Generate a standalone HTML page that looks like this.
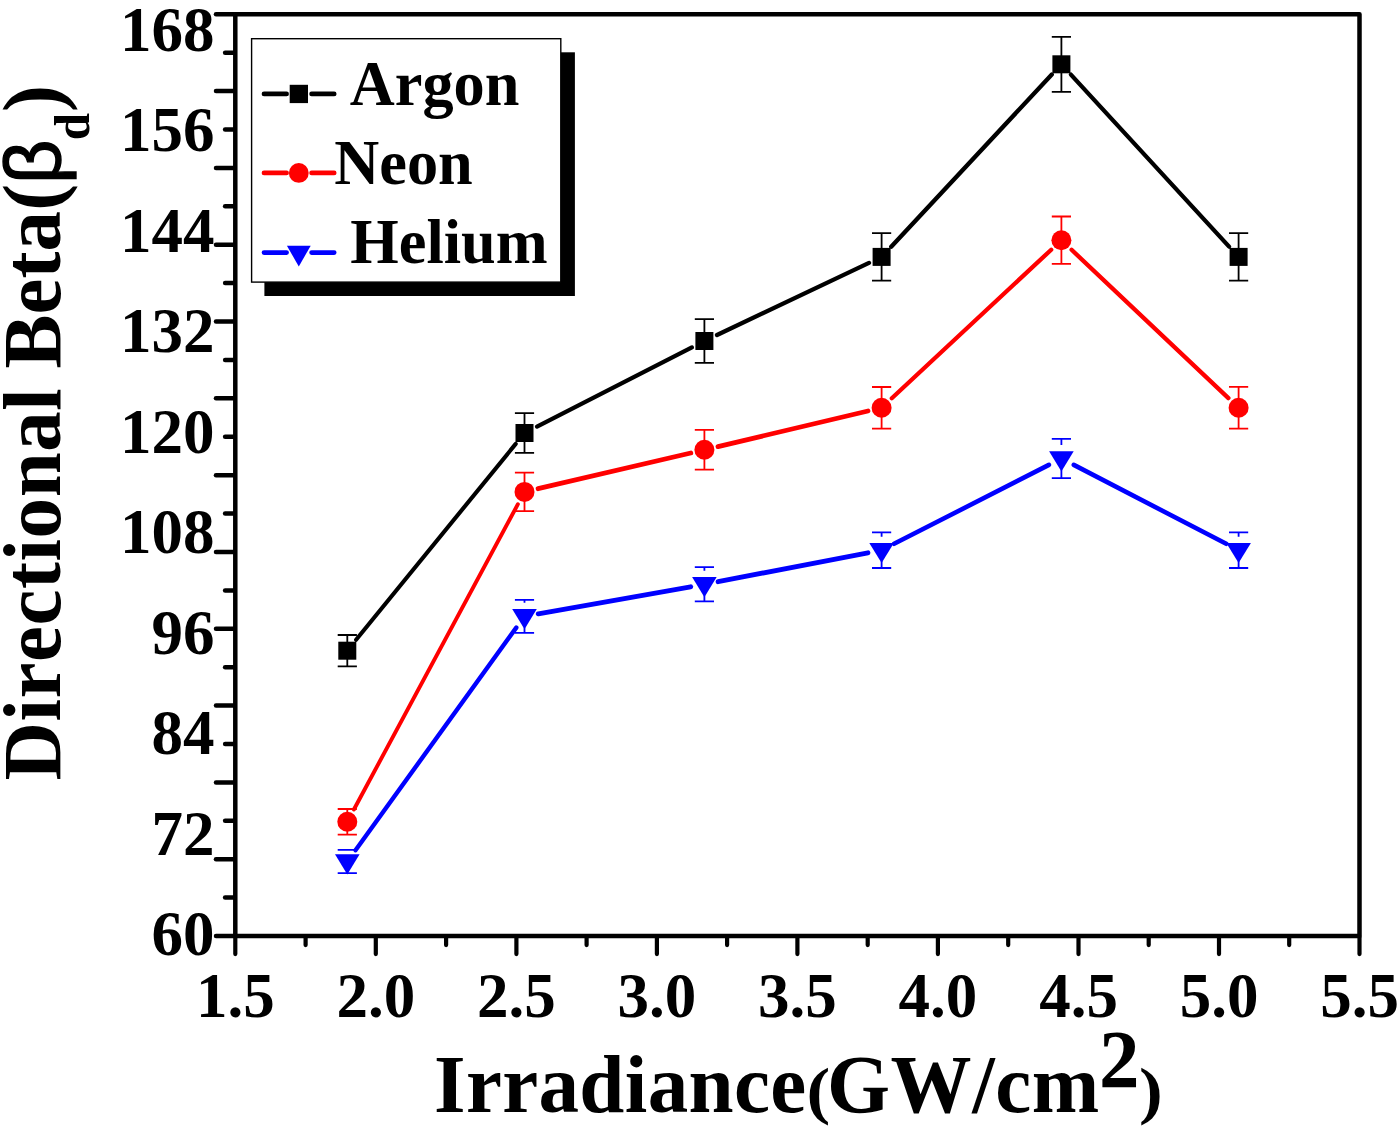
<!DOCTYPE html>
<html lang="en"><head><meta charset="utf-8"><title>Chart</title>
<style>html,body{margin:0;padding:0;background:#fff}svg{display:block}</style></head>
<body>
<svg width="1400" height="1127" viewBox="0 0 1400 1127">
<rect width="1400" height="1127" fill="#fff"/>
<g stroke="#000" stroke-width="4.5" fill="none" stroke-linecap="round">
<path d="M235.3 14.3 H1359.5 V936.0 H235.3 Z" stroke-linejoin="round"/>
<path d="M234.3 14.3 H216.0"/>
<path d="M234.3 52.7 H225.1"/>
<path d="M234.3 91.1 H216.0"/>
<path d="M234.3 129.5 H225.1"/>
<path d="M234.3 167.9 H216.0"/>
<path d="M234.3 206.3 H225.1"/>
<path d="M234.3 244.7 H216.0"/>
<path d="M234.3 283.1 H225.1"/>
<path d="M234.3 321.5 H216.0"/>
<path d="M234.3 359.9 H225.1"/>
<path d="M234.3 398.3 H216.0"/>
<path d="M234.3 436.7 H225.1"/>
<path d="M234.3 475.2 H216.0"/>
<path d="M234.3 513.6 H225.1"/>
<path d="M234.3 552.0 H216.0"/>
<path d="M234.3 590.4 H225.1"/>
<path d="M234.3 628.8 H216.0"/>
<path d="M234.3 667.2 H225.1"/>
<path d="M234.3 705.6 H216.0"/>
<path d="M234.3 744.0 H225.1"/>
<path d="M234.3 782.4 H216.0"/>
<path d="M234.3 820.8 H225.1"/>
<path d="M234.3 859.2 H216.0"/>
<path d="M234.3 897.6 H225.1"/>
<path d="M234.3 936.0 H216.0"/>
</g>
<g stroke="#000" stroke-width="4.2" fill="none" stroke-linecap="round">
<path d="M235.3 937.0 V954.1"/>
<path d="M305.6 937.0 V945.1"/>
<path d="M375.8 937.0 V954.1"/>
<path d="M446.1 937.0 V945.1"/>
<path d="M516.4 937.0 V954.1"/>
<path d="M586.6 937.0 V945.1"/>
<path d="M656.9 937.0 V954.1"/>
<path d="M727.1 937.0 V945.1"/>
<path d="M797.4 937.0 V954.1"/>
<path d="M867.7 937.0 V945.1"/>
<path d="M937.9 937.0 V954.1"/>
<path d="M1008.2 937.0 V945.1"/>
<path d="M1078.5 937.0 V954.1"/>
<path d="M1148.7 937.0 V945.1"/>
<path d="M1219.0 937.0 V954.1"/>
<path d="M1289.2 937.0 V945.1"/>
<path d="M1359.5 937.0 V954.1"/>
</g>
<g stroke="#000" fill="#000">
<path d="M356.1 639.8 L515.7 443.9" stroke-width="4.1" stroke-linecap="round" fill="none"/>
<path d="M537.0 426.6 L691.9 347.4" stroke-width="4.3" stroke-linecap="round" fill="none"/>
<path d="M717.0 335.0 L869.0 262.9" stroke-width="4.3" stroke-linecap="round" fill="none"/>
<path d="M891.2 246.7 L1051.8 74.5" stroke-width="4.3" stroke-linecap="round" fill="none"/>
<path d="M1070.9 74.6 L1229.1 246.6" stroke-width="4.3" stroke-linecap="round" fill="none"/>
<path d="M347.3 635.0 V666.4 M337.7 635.0 H356.9 M337.7 666.4 H356.9" stroke-width="1.8" fill="none"/>
<rect x="338.3" y="641.7" width="18" height="18" stroke="none"/>
<path d="M524.5 413.1 V452.9 M514.9 413.1 H534.1 M514.9 452.9 H534.1" stroke-width="1.8" fill="none"/>
<rect x="515.5" y="424.0" width="18" height="18" stroke="none"/>
<path d="M704.4 319.1 V362.9 M694.8 319.1 H714.0 M694.8 362.9 H714.0" stroke-width="1.8" fill="none"/>
<rect x="695.4" y="332.0" width="18" height="18" stroke="none"/>
<path d="M881.6 233.1 V280.7 M872.0 233.1 H891.2 M872.0 280.7 H891.2" stroke-width="1.8" fill="none"/>
<rect x="872.6" y="247.9" width="18" height="18" stroke="none"/>
<path d="M1061.4 36.8 V91.8 M1051.8 36.8 H1071.0 M1051.8 91.8 H1071.0" stroke-width="1.8" fill="none"/>
<rect x="1052.4" y="55.3" width="18" height="18" stroke="none"/>
<path d="M1238.6 233.1 V280.7 M1229.0 233.1 H1248.2 M1229.0 280.7 H1248.2" stroke-width="1.8" fill="none"/>
<rect x="1229.6" y="247.9" width="18" height="18" stroke="none"/>
</g>
<g stroke="#f00" fill="#f00">
<path d="M353.9 809.5 L517.9 504.2" stroke-width="3.9" stroke-linecap="round" fill="none"/>
<path d="M538.1 488.7 L690.8 453.0" stroke-width="4.8" stroke-linecap="round" fill="none"/>
<path d="M718.0 446.6 L868.0 411.0" stroke-width="4.8" stroke-linecap="round" fill="none"/>
<path d="M891.8 398.3 L1051.2 249.7" stroke-width="4.3" stroke-linecap="round" fill="none"/>
<path d="M1071.6 249.8 L1228.4 398.1" stroke-width="4.3" stroke-linecap="round" fill="none"/>
<path d="M347.3 809.0 V834.6 M337.7 809.0 H356.9 M337.7 834.6 H356.9" stroke-width="1.8" fill="none"/>
<circle cx="347.3" cy="821.8" r="10" stroke="none"/>
<path d="M524.5 472.7 V511.1 M514.9 472.7 H534.1 M514.9 511.1 H534.1" stroke-width="1.8" fill="none"/>
<circle cx="524.5" cy="491.9" r="10" stroke="none"/>
<path d="M704.4 429.9 V469.7 M694.8 429.9 H714.0 M694.8 469.7 H714.0" stroke-width="1.8" fill="none"/>
<circle cx="704.4" cy="449.8" r="10" stroke="none"/>
<path d="M881.6 387.0 V428.6 M872.0 387.0 H891.2 M872.0 428.6 H891.2" stroke-width="1.8" fill="none"/>
<circle cx="881.6" cy="407.8" r="10" stroke="none"/>
<path d="M1061.4 216.5 V263.9 M1051.8 216.5 H1071.0 M1051.8 263.9 H1071.0" stroke-width="1.8" fill="none"/>
<circle cx="1061.4" cy="240.2" r="10" stroke="none"/>
<path d="M1238.6 386.8 V428.6 M1229.0 386.8 H1248.2 M1229.0 428.6 H1248.2" stroke-width="1.8" fill="none"/>
<circle cx="1238.6" cy="407.7" r="10" stroke="none"/>
</g>
<g stroke="#00f" fill="#00f">
<path d="M355.5 850.2 L516.3 627.6" stroke-width="4.4" stroke-linecap="round" fill="none"/>
<path d="M538.3 613.8 L690.6 586.8" stroke-width="4.9" stroke-linecap="round" fill="none"/>
<path d="M718.1 581.7 L867.9 552.8" stroke-width="4.9" stroke-linecap="round" fill="none"/>
<path d="M894.1 543.8 L1048.9 464.9" stroke-width="4.6" stroke-linecap="round" fill="none"/>
<path d="M1073.8 464.9 L1226.2 543.8" stroke-width="4.6" stroke-linecap="round" fill="none"/>
<path d="M347.3 849.9 V849.9 M347.3 872.4 V873.1 M337.7 849.9 H356.9 M337.7 873.1 H356.9" stroke-width="1.8" fill="none"/>
<path d="M335.0 854.2 L359.6 854.2 L347.3 874.4 Z" stroke="none"/>
<path d="M524.5 599.8 V602.8 M524.5 627.2 V632.8 M514.9 599.8 H534.1 M514.9 632.8 H534.1" stroke-width="1.8" fill="none"/>
<path d="M512.2 609.0 L536.8 609.0 L524.5 629.2 Z" stroke="none"/>
<path d="M704.4 567.2 V570.8 M704.4 595.2 V601.4 M694.8 567.2 H714.0 M694.8 601.4 H714.0" stroke-width="1.8" fill="none"/>
<path d="M692.1 577.0 L716.7 577.0 L704.4 597.2 Z" stroke="none"/>
<path d="M881.6 532.4 V536.7 M881.6 561.1 V568.0 M872.0 532.4 H891.2 M872.0 568.0 H891.2" stroke-width="1.8" fill="none"/>
<path d="M869.3 542.9 L893.9 542.9 L881.6 563.1 Z" stroke="none"/>
<path d="M1061.4 438.8 V445.0 M1061.4 469.4 V478.2 M1051.8 438.8 H1071.0 M1051.8 478.2 H1071.0" stroke-width="1.8" fill="none"/>
<path d="M1049.1 451.2 L1073.7 451.2 L1061.4 471.4 Z" stroke="none"/>
<path d="M1238.6 532.4 V536.7 M1238.6 561.1 V568.0 M1229.0 532.4 H1248.2 M1229.0 568.0 H1248.2" stroke-width="1.8" fill="none"/>
<path d="M1226.3 542.9 L1250.9 542.9 L1238.6 563.1 Z" stroke="none"/>
</g>
<rect x="264.4" y="52.3" width="310.5" height="243.7" fill="#000"/>
<rect x="251.6" y="38.7" width="309.2" height="243.4" fill="#fff" stroke="#000" stroke-width="1.4"/>
<g stroke="#000" fill="#000" stroke-width="4.7" stroke-linecap="round">
<path d="M264 93.9 H286.6 M311.6 93.9 H334.2" fill="none"/>
<rect x="289.7" y="84.8" width="18.3" height="18.3" stroke="none"/>
</g>
<g stroke="#f00" fill="#f00" stroke-width="4.7" stroke-linecap="round">
<path d="M264 172.9 H286.6 M311.6 172.9 H334.2" fill="none"/>
<circle cx="298.8" cy="172.9" r="9.9" stroke="none"/>
</g>
<g stroke="#00f" fill="#00f" stroke-width="4.7" stroke-linecap="round">
<path d="M264 252.6 H286.6 M311.6 252.6 H334.2" fill="none"/>
<path d="M286.9 245.8 L310.7 245.8 L298.8 266.4 Z" stroke="none"/>
</g>
<g font-family="'Liberation Serif', serif" font-weight="bold" fill="#000">
<text transform="translate(349.8 104.6) scale(1 1.022)" font-size="62.3">Argon</text>
<text transform="translate(334.3 184.3) scale(1 1.022)" font-size="62.3">Neon</text>
<text transform="translate(350.3 263.1) scale(1 1.022)" font-size="62.3">Helium</text>
<text transform="translate(214.5 50.6) scale(1 1.022)" font-size="63" text-anchor="end">168</text>
<text transform="translate(214.5 151.1) scale(1 1.022)" font-size="63" text-anchor="end">156</text>
<text transform="translate(214.5 251.6) scale(1 1.022)" font-size="63" text-anchor="end">144</text>
<text transform="translate(214.5 352.1) scale(1 1.022)" font-size="63" text-anchor="end">132</text>
<text transform="translate(214.5 452.6) scale(1 1.022)" font-size="63" text-anchor="end">120</text>
<text transform="translate(214.5 553.1) scale(1 1.022)" font-size="63" text-anchor="end">108</text>
<text transform="translate(214.5 653.6) scale(1 1.022)" font-size="63" text-anchor="end">96</text>
<text transform="translate(214.5 754.1) scale(1 1.022)" font-size="63" text-anchor="end">84</text>
<text transform="translate(214.5 854.6) scale(1 1.022)" font-size="63" text-anchor="end">72</text>
<text transform="translate(214.5 955.1) scale(1 1.022)" font-size="63" text-anchor="end">60</text>
<text transform="translate(235.3 1017.1) scale(1 1.022)" font-size="63" text-anchor="middle">1.5</text>
<text transform="translate(375.8 1017.1) scale(1 1.022)" font-size="63" text-anchor="middle">2.0</text>
<text transform="translate(516.4 1017.1) scale(1 1.022)" font-size="63" text-anchor="middle">2.5</text>
<text transform="translate(656.9 1017.1) scale(1 1.022)" font-size="63" text-anchor="middle">3.0</text>
<text transform="translate(797.4 1017.1) scale(1 1.022)" font-size="63" text-anchor="middle">3.5</text>
<text transform="translate(937.9 1017.1) scale(1 1.022)" font-size="63" text-anchor="middle">4.0</text>
<text transform="translate(1078.5 1017.1) scale(1 1.022)" font-size="63" text-anchor="middle">4.5</text>
<text transform="translate(1219.0 1017.1) scale(1 1.022)" font-size="63" text-anchor="middle">5.0</text>
<text transform="translate(1359.5 1017.1) scale(1 1.022)" font-size="63" text-anchor="middle">5.5</text>
<g style="font-kerning:none">
<text transform="translate(434.0 1111.6) scale(1 1.022)" font-size="81" letter-spacing="0.37">Irradiance</text>
<text transform="translate(806.5 1112.4) scale(1.14 1.0)" font-size="62.5">(</text>
<text transform="translate(827.0 1111.6) scale(1 1.022)" font-size="81" letter-spacing="0.6">GW/cm</text>
<text transform="translate(1099.0 1087.3) scale(1 1.022)" font-size="81">2</text>
<text transform="translate(1139.0 1112.4) scale(1.14 1.0)" font-size="62.5">)</text>
</g>
<g transform="translate(60.0 780.6) rotate(-90)" style="font-kerning:none">
<text transform="translate(0.0 0.0) scale(1 1.022)" font-size="81" letter-spacing="0.56">Directional</text>
<text transform="translate(412.0 0.0) scale(1 1.022)" font-size="81" letter-spacing="0.1">Beta(</text>
<text x="596.7" y="0" font-size="77" font-family="'Liberation Sans', sans-serif" font-weight="normal" stroke="#000" stroke-width="1.4">β</text>
<text transform="translate(640.3 29.3) scale(1 1.022)" font-size="49">d</text>
<text transform="translate(668.5 0.0) scale(1 1.022)" font-size="81">)</text>
</g>
</g>
</svg>
</body></html>
